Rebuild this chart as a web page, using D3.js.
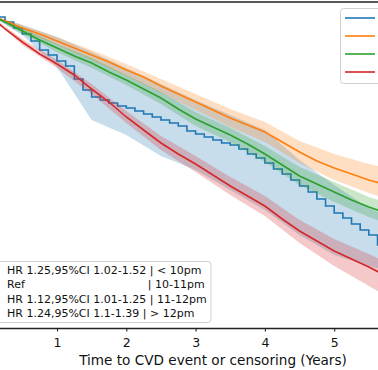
<!DOCTYPE html>
<html>
<head>
<meta charset="utf-8">
<script src="https://cdn.jsdelivr.net/npm/d3@7"></script>
<style>
  html, body { margin: 0; padding: 0; background: #fff; overflow: hidden; }
  svg { display: block; font-family: "DejaVu Sans", sans-serif; }
</style>
</head>
<body>
<div id="chart"></div>
<script>
// Groupes (heure du coucher) et libellés de la légende
const groups = ["< 10pm", "10-11pm", "11-12pm", "> 12pm"];
const hrLabels = ["HR 1.25,95%CI 1.02-1.52", "Ref", "HR 1.12,95%CI 1.01-1.25", "HR 1.24,95%CI 1.1-1.39"];
const xTicks = [1, 2, 3, 4, 5];
const xLabel = "Time to CVD event or censoring (Years)";

// Temps (années)
const yearsFine = [0, 0.125, 0.25, 0.375, 0.5, 0.625, 0.75, 0.875, 1, 1.125, 1.25, 1.375, 1.5, 1.625, 1.75, 1.875,
  2, 2.125, 2.25, 2.375, 2.5, 2.625, 2.75, 2.875, 3, 3.125, 3.25, 3.375, 3.5, 3.625, 3.75, 3.875,
  4, 4.125, 4.25, 4.375, 4.5, 4.625, 4.75, 4.875, 5, 5.125, 5.25, 5.375, 5.5, 5.625, 5.75, 5.875, 6];
const years = [0, 0.25, 0.5, 0.75, 1, 1.25, 1.5, 1.75, 2, 2.25, 2.5, 2.75, 3, 3.25, 3.5, 3.75,
  4, 4.25, 4.5, 4.75, 5, 5.25, 5.5, 5.75, 6];
const ciYears = [0, 0.5, 1, 1.5, 2, 2.5, 3, 3.5, 4, 4.5, 5, 5.5, 6];

// Survie estimée
const survLt10 = [1.000, 0.9985, 0.996, 0.993, 0.990, 0.9865, 0.982, 0.9795, 0.9765, 0.974, 0.9675, 0.962,
  0.9585, 0.957, 0.9555, 0.954, 0.953, 0.9515, 0.950, 0.9485, 0.947, 0.9455, 0.944, 0.9415, 0.940, 0.9385,
  0.937, 0.9355, 0.9345, 0.9325, 0.930, 0.928, 0.9255, 0.9225, 0.920, 0.917, 0.914, 0.911, 0.9075, 0.904,
  0.9005, 0.898, 0.895, 0.892, 0.8895, 0.8845, 0.882, 0.880, 0.878];
const surv10to11 = [1.000, 0.9965, 0.993, 0.990, 0.9865, 0.983, 0.9795, 0.976, 0.972, 0.9685, 0.964, 0.960,
  0.956, 0.952, 0.948, 0.9445, 0.941, 0.936, 0.931, 0.9265, 0.923, 0.920, 0.917, 0.9145, 0.912];
const surv11to12 = [1.000, 0.996, 0.9915, 0.987, 0.983, 0.979, 0.9755, 0.971, 0.967, 0.9625, 0.958, 0.9525,
  0.9475, 0.9435, 0.9395, 0.935, 0.930, 0.9245, 0.919, 0.915, 0.911, 0.907, 0.9035, 0.9005, 0.898];
const survGt12 = [1.000, 0.9925, 0.986, 0.980, 0.975, 0.9695, 0.9625, 0.956, 0.9485, 0.942, 0.9355, 0.930,
  0.925, 0.9195, 0.914, 0.909, 0.904, 0.8975, 0.8915, 0.8865, 0.8815, 0.8775, 0.8735, 0.869, 0.865];

// Intervalles de confiance 95%
const ciLowLt10 = [1.000, 0.9895, 0.9735, 0.947, 0.9395, 0.929, 0.922, 0.912, 0.902, 0.8895, 0.8795, 0.874, 0.8695];
const ciHighLt10 = [1.000, 0.9945, 0.9885, 0.981, 0.973, 0.965, 0.957, 0.9495, 0.942, 0.927, 0.9145, 0.903, 0.896];
const ciLow10to11 = [1.000, 0.9915, 0.9845, 0.977, 0.969, 0.9605, 0.952, 0.9435, 0.936, 0.9255, 0.917, 0.9105, 0.905];
const ciHigh10to11 = [1.000, 0.9945, 0.9885, 0.982, 0.975, 0.9675, 0.960, 0.9525, 0.946, 0.9365, 0.930, 0.925, 0.921];
const ciLow11to12 = [1.000, 0.990, 0.981, 0.973, 0.9645, 0.955, 0.944, 0.936, 0.926, 0.9145, 0.906, 0.8985, 0.8925];
const ciHigh11to12 = [1.000, 0.993, 0.985, 0.978, 0.9695, 0.961, 0.951, 0.943, 0.934, 0.9235, 0.916, 0.9085, 0.9035];
const ciLowGt12 = [1.000, 0.9845, 0.973, 0.960, 0.9455, 0.932, 0.921, 0.9095, 0.899, 0.8855, 0.874, 0.864, 0.854];
const ciHighGt12 = [1.000, 0.9875, 0.977, 0.965, 0.9515, 0.939, 0.929, 0.9185, 0.909, 0.897, 0.8875, 0.880, 0.872];

function createSurvivalChart(elementId) {
  const width = 378;
  const height = 370;
  const top = 2;
  const bottom = 328;
  const colors = ["#1f77b4", "#ff7f0e", "#2ca02c", "#d62728"];

  const series = [
    {t: yearsFine, s: survLt10, lo: ciLowLt10, hi: ciHighLt10, step: true},
    {t: years, s: surv10to11, lo: ciLow10to11, hi: ciHigh10to11},
    {t: years, s: surv11to12, lo: ciLow11to12, hi: ciHigh11to12},
    {t: years, s: survGt12, lo: ciLowGt12, hi: ciHighGt12}
  ];

  const x = d3.scaleLinear().domain([0, 6]).range([-12.3, 403.5]);
  const y = d3.scaleLinear().domain([0.9, 1.0]).range([214, 14]);

  const svg = d3.select(elementId)
    .append("svg")
    .attr("width", width)
    .attr("height", height);

  svg.append("clipPath")
    .attr("id", "plot-clip")
    .append("rect")
    .attr("x", x(0))
    .attr("y", top)
    .attr("width", x(6) - x(0))
    .attr("height", bottom - top);

  const plot = svg.append("g").attr("clip-path", "url(#plot-clip)");

  const band = d3.area()
    .x(d => x(d.t))
    .y0(d => y(d.lo))
    .y1(d => y(d.hi));

  series.forEach((sr, i) => {
    const ci = ciYears.map((t, j) => ({t: t, lo: sr.lo[j], hi: sr.hi[j]}));
    plot.append("path")
      .attr("d", band(ci))
      .attr("fill", colors[i])
      .attr("fill-opacity", 0.25)
      .attr("stroke", "none");

    const line = d3.line()
      .x(d => x(d.t))
      .y(d => y(d.s))
      .curve(sr.step ? d3.curveStepAfter : d3.curveLinear);
    plot.append("path")
      .attr("d", line(sr.t.map((t, j) => ({t: t, s: sr.s[j]}))))
      .attr("fill", "none")
      .attr("stroke", colors[i])
      .attr("stroke-width", 1.6);
  });

  // Cadre (haut) et axe x
  svg.append("line")
    .attr("x1", x(0)).attr("x2", x(6))
    .attr("y1", top).attr("y2", top)
    .attr("stroke", "#222").attr("stroke-width", 1.3);

  const xAxis = svg.append("g")
    .attr("transform", `translate(0,${bottom})`)
    .call(d3.axisBottom(x).tickValues(xTicks).tickSize(3.5).tickSizeOuter(0).tickPadding(6.5).tickFormat(d3.format("d")));
  xAxis.select(".domain").attr("stroke", "#222").attr("stroke-width", 1.3);
  xAxis.selectAll(".tick line").attr("stroke", "#222").attr("stroke-width", 1.1);
  xAxis.selectAll(".tick text")
    .attr("font-family", "DejaVu Sans")
    .attr("font-size", "12.5px")
    .attr("fill", "#111");

  svg.append("text")
    .attr("x", 213)
    .attr("y", 364.5)
    .attr("text-anchor", "middle")
    .attr("font-size", "13.6px")
    .attr("fill", "#111")
    .text(xLabel);

  // Légende en haut à droite (lignes seulement, texte hors cadre)
  const legTop = svg.append("g");
  legTop.append("rect")
    .attr("x", 340.5).attr("y", 8.5)
    .attr("width", 70).attr("height", 75)
    .attr("rx", 3)
    .attr("fill", "#fff").attr("fill-opacity", 0.8)
    .attr("stroke", "#d0d0d0");
  legTop.selectAll("line")
    .data(groups)
    .join("line")
    .attr("x1", 345).attr("x2", 375)
    .attr("y1", (d, i) => 18 + i * 18)
    .attr("y2", (d, i) => 18 + i * 18)
    .attr("stroke", (d, i) => colors[i])
    .attr("stroke-width", 1.6);

  // Légende en bas à gauche (HR)
  const legBottom = svg.append("g");
  legBottom.append("rect")
    .attr("x", -30).attr("y", 261.5)
    .attr("width", 241).attr("height", 61)
    .attr("rx", 3)
    .attr("fill", "#fff").attr("fill-opacity", 0.8)
    .attr("stroke", "#d0d0d0");

  const rows = legBottom.selectAll("text")
    .data(groups)
    .join("text")
    .attr("x", 7)
    .attr("y", (d, i) => 274 + i * 14.3)
    .attr("font-size", "11px")
    .attr("fill", "#111")
    .style("white-space", "pre");

  rows.append("tspan").text((d, i) => hrLabels[i] + " ");
  const pipeX = 7 + rows.nodes()[0].querySelector("tspan").getComputedTextLength() - 2;
  rows.append("tspan")
    .attr("x", (d, i) => hrLabels[i] === "Ref" ? pipeX : null)
    .text(d => "| " + d);
}

createSurvivalChart("#chart");
</script>
</body>
</html>
